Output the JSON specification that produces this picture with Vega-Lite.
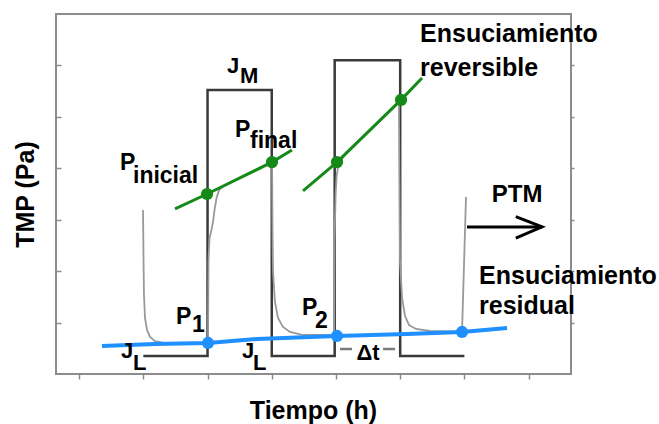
{
  "$schema": "https://vega.github.io/schema/vega-lite/v6.json",
  "width": 515,
  "height": 360,
  "autosize": {"type": "none"},
  "padding": {"left": 56, "top": 14, "right": 88, "bottom": 50},
  "background": "white",
  "config": {
    "view": {"stroke": "#8c8c8c", "strokeWidth": 2},
    "font": "Liberation Sans",
    "text": {"font": "Liberation Sans", "fontWeight": "bold", "color": "black"}
  },
  "datasets": {
    "step": [
      {"i": 0, "x": 1, "y": 0.35}, {"i": 1, "x": 2, "y": 0.35}, {"i": 2, "x": 2, "y": 5.52},
      {"i": 3, "x": 3, "y": 5.52}, {"i": 4, "x": 3, "y": 0.35}, {"i": 5, "x": 3.98, "y": 0.35},
      {"i": 6, "x": 3.98, "y": 6.1}, {"i": 7, "x": 5, "y": 6.1}, {"i": 8, "x": 5, "y": 0.35},
      {"i": 9, "x": 6, "y": 0.35}
    ],
    "tmp": [
      {"i": 0, "x": 0.995, "y": 3.19}, {"i": 1, "x": 1.003, "y": 2.22}, {"i": 2, "x": 1.01, "y": 1.54},
      {"i": 3, "x": 1.026, "y": 1.09}, {"i": 4, "x": 1.057, "y": 0.856}, {"i": 5, "x": 1.104, "y": 0.72},
      {"i": 6, "x": 1.182, "y": 0.64}, {"i": 7, "x": 1.338, "y": 0.6}, {"i": 8, "x": 2.007, "y": 0.6},
      {"i": 9, "x": 2.015, "y": 2.22}, {"i": 10, "x": 2.03, "y": 2.64}, {"i": 11, "x": 2.054, "y": 2.76},
      {"i": 12, "x": 2.085, "y": 2.96}, {"i": 13, "x": 2.11, "y": 3.2}, {"i": 14, "x": 2.14, "y": 3.42},
      {"i": 15, "x": 2.18, "y": 3.58}, {"i": 16, "x": 2.25, "y": 3.655}, {"i": 17, "x": 3.004, "y": 4.12},
      {"i": 18, "x": 3.012, "y": 2.8},
      {"i": 19, "x": 3.02, "y": 1.98}, {"i": 20, "x": 3.05, "y": 1.4}, {"i": 21, "x": 3.097, "y": 1.09},
      {"i": 22, "x": 3.175, "y": 0.914}, {"i": 23, "x": 3.284, "y": 0.817}, {"i": 24, "x": 3.487, "y": 0.758},
      {"i": 25, "x": 3.97, "y": 0.758}, {"i": 26, "x": 3.977, "y": 2.61}, {"i": 27, "x": 3.995, "y": 3.5},
      {"i": 28, "x": 4.01, "y": 3.85}, {"i": 29, "x": 4.03, "y": 4.0}, {"i": 30, "x": 4.06, "y": 4.1},
      {"i": 31, "x": 4.1, "y": 4.19}, {"i": 32, "x": 4.15, "y": 4.27}, {"i": 33, "x": 4.98, "y": 5.29},
      {"i": 34, "x": 4.99, "y": 3.38},
      {"i": 35, "x": 4.997, "y": 2.18}, {"i": 36, "x": 5.03, "y": 1.48}, {"i": 37, "x": 5.075, "y": 1.13},
      {"i": 38, "x": 5.138, "y": 0.95}, {"i": 39, "x": 5.247, "y": 0.875}, {"i": 40, "x": 5.465, "y": 0.836},
      {"i": 41, "x": 5.963, "y": 0.817}, {"i": 42, "x": 6.025, "y": 3.44}
    ],
    "green": [
      {"s": "a", "x": 1.493, "y": 3.21}, {"s": "a", "x": 1.992, "y": 3.5}, {"s": "a", "x": 3.004, "y": 4.12},
      {"s": "a", "x": 3.315, "y": 4.355}, {"s": "b", "x": 3.487, "y": 3.56}, {"s": "b", "x": 4.016, "y": 4.12},
      {"s": "b", "x": 5.013, "y": 5.33}, {"s": "b", "x": 5.34, "y": 5.755}
    ],
    "gpts": [
      {"x": 1.992, "y": 3.5}, {"x": 3.004, "y": 4.12}, {"x": 4.016, "y": 4.12}, {"x": 5.013, "y": 5.33}
    ],
    "blue": [
      {"x": 0.356, "y": 0.544}, {"x": 1.182, "y": 0.583}, {"x": 2.007, "y": 0.603}, {"x": 2.77, "y": 0.68},
      {"x": 4.016, "y": 0.739}, {"x": 5.106, "y": 0.778}, {"x": 5.963, "y": 0.817}, {"x": 6.664, "y": 0.894}
    ],
    "bpts": [
      {"x": 2.007, "y": 0.603}, {"x": 4.016, "y": 0.739}, {"x": 5.963, "y": 0.817}
    ],
    "arrow": [
      {"s": "shaft", "i": 0, "x": 6.04, "y": 2.86}, {"s": "shaft", "i": 1, "x": 7.209, "y": 2.86},
      {"s": "head", "i": 0, "x": 6.8, "y": 3.06}, {"s": "head", "i": 1, "x": 7.209, "y": 2.86},
      {"s": "head", "i": 2, "x": 6.8, "y": 2.64}
    ],
    "dash": [
      {"x": 4.063, "x2": 4.25, "y": 0.486}, {"x": 4.733, "x2": 4.92, "y": 0.486}
    ],
    "tbig": [
      {"t": "Ensuciamiento", "x": 5.309, "y": 6.455}, {"t": "reversible", "x": 5.309, "y": 5.794},
      {"t": "Ensuciamiento", "x": 6.228, "y": 1.75}, {"t": "residual", "x": 6.228, "y": 1.167}
    ],
    "tp": [
      {"t": "P", "x": 2.428, "y": 4.608}, {"t": "final", "x": 2.661, "y": 4.394},
      {"t": "P", "x": 0.637, "y": 3.967}, {"t": "inicial", "x": 0.839, "y": 3.714},
      {"t": "P", "x": 1.509, "y": 0.972}, {"t": "1", "x": 1.758, "y": 0.817},
      {"t": "P", "x": 3.471, "y": 1.147}, {"t": "2", "x": 3.674, "y": 0.894}
    ],
    "tj": [
      {"t": "J", "x": 2.303, "y": 5.853}, {"t": "M", "x": 2.506, "y": 5.658},
      {"t": "J", "x": 0.652, "y": 0.311}, {"t": "L", "x": 0.839, "y": 0.078},
      {"t": "J", "x": 2.537, "y": 0.311}, {"t": "L", "x": 2.708, "y": 0.078}
    ],
    "tc": [
      {"t": "PTM", "x": 6.82, "y": 3.344}
    ],
    "td": [
      {"t": "Δt", "x": 4.5, "y": 0.272}
    ]
  },
  "resolve": {"axis": {"y": "independent"}},
  "layer": [
    {
      "data": {"name": "step"},
      "mark": {"type": "line", "color": "#3a3a3a", "strokeWidth": 2.5},
      "encoding": {
        "x": {"field": "x", "type": "quantitative", "scale": {"domain": [-0.36, 7.66], "nice": false, "zero": false},
          "axis": {"values": [0, 1, 2, 3, 4, 5, 6, 7], "labels": false, "domain": false, "grid": false, "ticks": true,
            "tickSize": 5, "tickColor": "#8c8c8c", "tickWidth": 1.5,
            "title": "Tiempo (h)", "titleFont": "Liberation Sans", "titleFontSize": 25, "titleFontWeight": "bold",
            "titleColor": "black", "titleBaseline": "alphabetic", "titleX": 257, "titleY": 44}},
        "y": {"field": "y", "type": "quantitative", "scale": {"domain": [0, 7], "nice": false, "zero": false},
          "axis": {"values": [1, 2, 3, 4, 5, 6], "labels": false, "domain": false, "grid": false, "ticks": true,
            "tickSize": -5, "tickColor": "#8c8c8c", "tickWidth": 1.5,
            "title": "TMP (Pa)", "titleFont": "Liberation Sans", "titleFontSize": 25, "titleFontWeight": "bold",
            "titleColor": "black", "titleAngle": -90, "titleBaseline": "alphabetic", "titleX": -23, "titleY": 180, "titleAlign": "center"}},
        "order": {"field": "i"}
      }
    },
    {
      "data": {"name": "tmp"},
      "mark": {"type": "line", "color": "#999999", "strokeWidth": 1.8},
      "encoding": {
        "x": {"field": "x", "type": "quantitative"},
        "y": {"field": "y", "type": "quantitative",
          "axis": {"orient": "right", "values": [1, 2, 3, 4, 5, 6], "labels": false, "domain": false, "grid": false,
            "tickSize": 3, "tickColor": "#8c8c8c", "tickWidth": 1.5, "title": null}},
        "order": {"field": "i"}
      }
    },
    {
      "data": {"name": "green"},
      "mark": {"type": "line", "color": "#158a18", "strokeWidth": 3},
      "encoding": {
        "x": {"field": "x", "type": "quantitative"},
        "y": {"field": "y", "type": "quantitative", "axis": null},
        "detail": {"field": "s"}
      }
    },
    {
      "data": {"name": "gpts"},
      "mark": {"type": "circle", "color": "#158a18", "size": 150, "opacity": 1},
      "encoding": {
        "x": {"field": "x", "type": "quantitative"},
        "y": {"field": "y", "type": "quantitative", "axis": null}
      }
    },
    {
      "data": {"name": "blue"},
      "mark": {"type": "line", "color": "#1e90ff", "strokeWidth": 4},
      "encoding": {
        "x": {"field": "x", "type": "quantitative"},
        "y": {"field": "y", "type": "quantitative", "axis": null}
      }
    },
    {
      "data": {"name": "bpts"},
      "mark": {"type": "circle", "color": "#1e90ff", "size": 150, "opacity": 1},
      "encoding": {
        "x": {"field": "x", "type": "quantitative"},
        "y": {"field": "y", "type": "quantitative", "axis": null}
      }
    },
    {
      "data": {"name": "arrow"},
      "mark": {"type": "line", "color": "black", "strokeWidth": 3},
      "encoding": {
        "x": {"field": "x", "type": "quantitative"},
        "y": {"field": "y", "type": "quantitative", "axis": null},
        "detail": {"field": "s"},
        "order": {"field": "i"}
      }
    },
    {
      "data": {"name": "dash"},
      "mark": {"type": "rule", "color": "#7a7a7a", "strokeWidth": 2.5},
      "encoding": {
        "x": {"field": "x", "type": "quantitative"},
        "x2": {"field": "x2"},
        "y": {"field": "y", "type": "quantitative", "axis": null}
      }
    },
    {
      "data": {"name": "tbig"},
      "mark": {"type": "text", "fontSize": 25, "align": "left", "baseline": "alphabetic"},
      "encoding": {
        "x": {"field": "x", "type": "quantitative"},
        "y": {"field": "y", "type": "quantitative", "axis": null},
        "text": {"field": "t"}
      }
    },
    {
      "data": {"name": "tp"},
      "mark": {"type": "text", "fontSize": 23, "align": "left", "baseline": "alphabetic"},
      "encoding": {
        "x": {"field": "x", "type": "quantitative"},
        "y": {"field": "y", "type": "quantitative", "axis": null},
        "text": {"field": "t"}
      }
    },
    {
      "data": {"name": "tj"},
      "mark": {"type": "text", "fontSize": 22, "align": "left", "baseline": "alphabetic"},
      "encoding": {
        "x": {"field": "x", "type": "quantitative"},
        "y": {"field": "y", "type": "quantitative", "axis": null},
        "text": {"field": "t"}
      }
    },
    {
      "data": {"name": "tc"},
      "mark": {"type": "text", "fontSize": 24, "align": "center", "baseline": "alphabetic"},
      "encoding": {
        "x": {"field": "x", "type": "quantitative"},
        "y": {"field": "y", "type": "quantitative", "axis": null},
        "text": {"field": "t"}
      }
    },
    {
      "data": {"name": "td"},
      "mark": {"type": "text", "fontSize": 22, "align": "center", "baseline": "alphabetic"},
      "encoding": {
        "x": {"field": "x", "type": "quantitative"},
        "y": {"field": "y", "type": "quantitative", "axis": null},
        "text": {"field": "t"}
      }
    }
  ]
}
